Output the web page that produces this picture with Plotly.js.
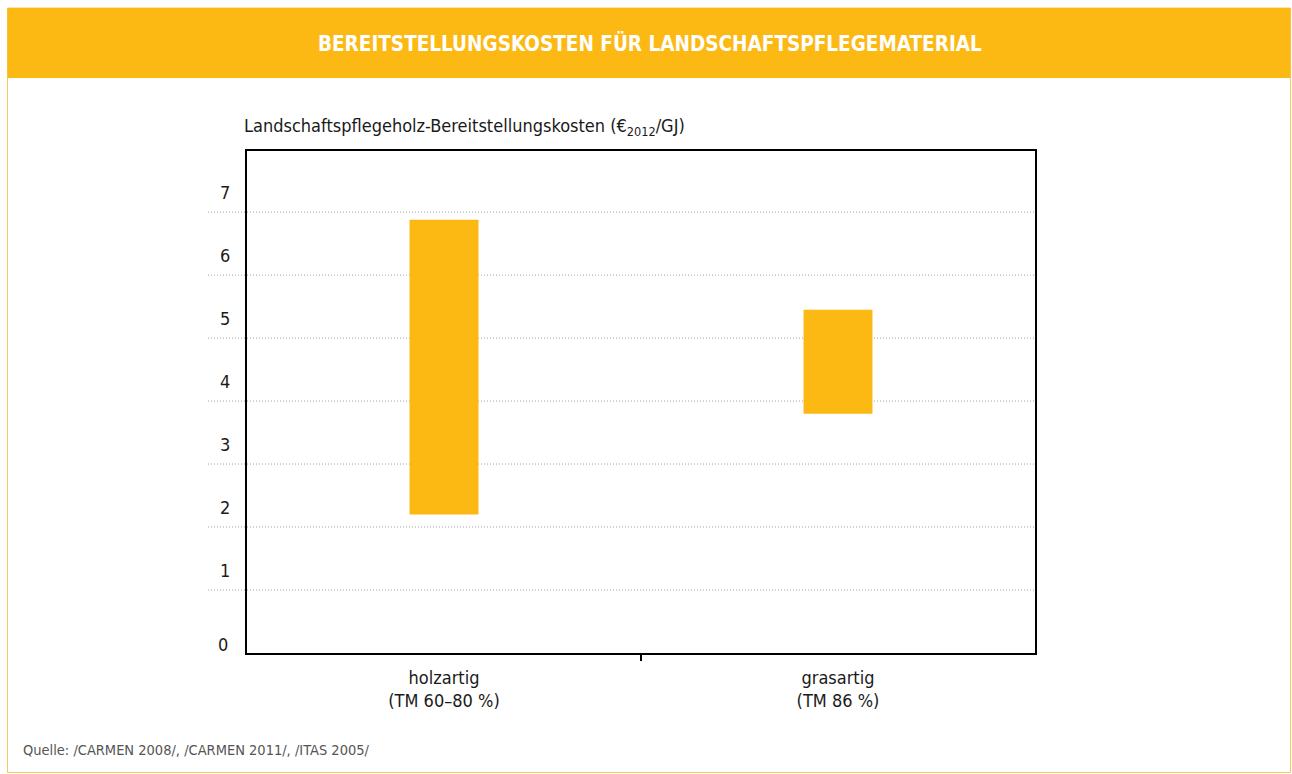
<!DOCTYPE html>
<html>
<head>
<meta charset="utf-8">
<script src="https://cdn.plot.ly/plotly-3.0.1.min.js"></script>
<style>html,body{margin:0;padding:0;background:#fff;}#chart{width:1292px;height:774px;}</style>
</head>
<body>
<div id="chart"></div>
<script>
// Data
const categories = ["holzartig<br>(TM 60–80 %)", "grasartig<br>(TM 86 %)"];
const lowValues = [2.2, 3.8];
const highValues = [6.88, 5.45];
const yTickValues = [0, 1, 2, 3, 4, 5, 6, 7];
const yTickLabels = ["0", "1", "2", "3", "4", "5", "6", "7"];
const chartTitle = "BEREITSTELLUNGSKOSTEN FÜR LANDSCHAFTSPFLEGEMATERIAL";
const axisTitle = "Landschaftspflegeholz-Bereitstellungskosten (€<sub>2012</sub>/GJ)";
const sourceText = "Quelle: /CARMEN 2008/, /CARMEN 2011/, /ITAS 2005/";

const YELLOW = "#FCB914";
const FONT = "'Liberation Sans Narrow', 'DejaVu Sans Condensed', 'Roboto', sans-serif";

const W = 1292, H = 774;
const mL = 247, mR = 257, mT = 151, mB = 121;
const pw = W - mL - mR, ph = H - mT - mB;
const px = x => (x - mL) / pw;          // pixel -> paper x
const py = y => (H - mB - y) / ph;      // pixel -> paper y

const trace = {
  type: "bar",
  x: categories,
  base: lowValues,
  y: highValues.map((h, i) => h - lowValues[i]),
  width: 0.175,
  marker: {color: YELLOW, line: {width: 0}},
  hoverinfo: "skip"
};

const shapes = [];
// outer frame
shapes.push({type: "rect", xref: "paper", yref: "paper", x0: px(7.5), x1: px(1290.5), y0: py(772.5), y1: py(8), line: {color: "#F8C85A", width: 1}, fillcolor: "rgba(0,0,0,0)", layer: "below"});
// header band
shapes.push({type: "rect", xref: "paper", yref: "paper", x0: px(7.5), x1: px(1290.5), y0: py(78), y1: py(8), line: {width: 0}, fillcolor: YELLOW, layer: "below"});
// dotted gridlines extending left of plot
yTickValues.filter(v => v > 0).forEach(v => {
  shapes.push({type: "line", xref: "paper", yref: "y", x0: px(208), x1: 1, y0: v, y1: v, line: {color: "#a0a0a0", width: 1, dash: "1px,2px"}, layer: "below"});
});
// category separator tick
shapes.push({type: "line", xref: "paper", yref: "paper", x0: 0.5, x1: 0.5, y0: 0, y1: -8 / ph, line: {color: "#000", width: 2}});

const layout = {
  width: W, height: H,
  margin: {l: mL, r: mR, t: mT, b: mB, pad: 0},
  paper_bgcolor: "#fff", plot_bgcolor: "rgba(0,0,0,0)",
  showlegend: false,
  font: {family: FONT, color: "#1a1a1a", size: 18},
  title: {text: "<b>" + chartTitle + "</b>", font: {family: FONT, size: 20.5, color: "#fff"}, x: 0.503, xref: "container", xanchor: "center", y: 1 - 44 / H, yref: "container", yanchor: "middle"},
  xaxis: {
    range: [-0.5, 1.5], showgrid: false, zeroline: false,
    showline: true, linecolor: "#000", linewidth: 2, mirror: true,
    ticks: "", tickfont: {size: 18, color: "#1a1a1a"}, ticklabelstandoff: 7,
    fixedrange: true
  },
  yaxis: {
    range: [0, 7.97], showgrid: false, zeroline: false,
    showline: true, linecolor: "#000", linewidth: 2, mirror: true,
    tickmode: "array", tickvals: yTickValues.slice(1), ticktext: yTickLabels.slice(1),
    ticks: "", tickfont: {size: 18, color: "#1a1a1a"},
    ticklabelstandoff: 11, ticklabelshift: -19,
    fixedrange: true
  },
  shapes: shapes,
  annotations: [
    {text: yTickLabels[0], xref: "paper", yref: "y", x: px(230), y: yTickValues[0], xanchor: "right", yanchor: "middle", yshift: 9, showarrow: false, font: {size: 18, color: "#1a1a1a"}},
    {text: axisTitle, xref: "paper", yref: "paper", x: px(242), y: py(127), xanchor: "left", yanchor: "middle", showarrow: false, font: {size: 18, color: "#1a1a1a"}},
    {text: sourceText, xref: "paper", yref: "paper", x: px(21), y: py(750), xanchor: "left", yanchor: "middle", showarrow: false, font: {size: 14.5, color: "#555"}}
  ]
};

Plotly.newPlot("chart", [trace], layout, {displayModeBar: false, staticPlot: true});
</script>
</body>
</html>
